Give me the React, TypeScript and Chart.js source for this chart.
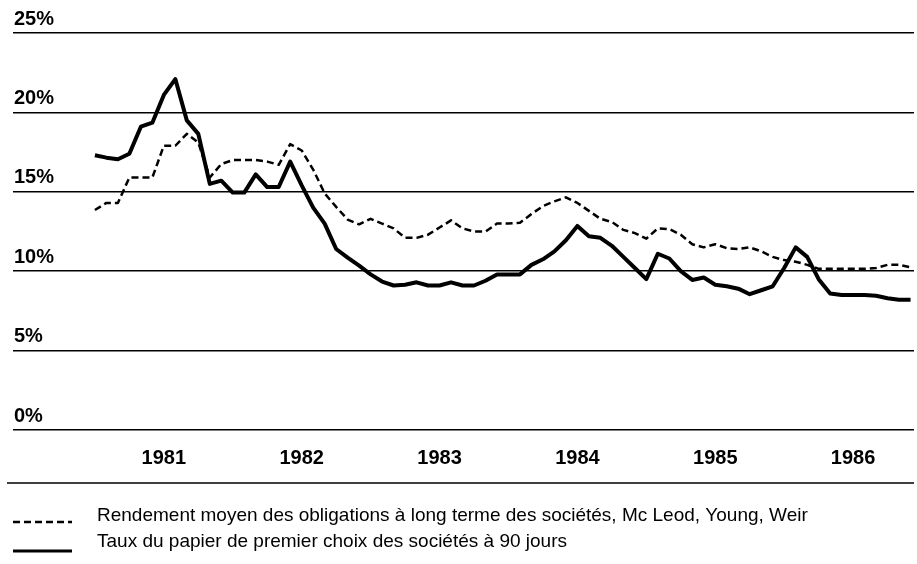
import React, { useEffect, useRef } from "react";
import { Chart, registerables } from "chart.js";

Chart.register(...registerables);

// ---- data ----
const yearLabels = ["1981", "1982", "1983", "1984", "1985", "1986"];
const firstYear = 1981;
const monthsPerYear = 12;

// Rendement moyen des obligations à long terme (monthly, Jan 1981 - Dec 1986)
const bondYield = [
  13.85, 14.3, 14.3, 15.9, 15.9, 15.9, 17.9, 17.9, 18.65, 18.1,
  15.9, 16.75, 17.0, 17.0, 17.0, 16.9, 16.7, 18.0, 17.6, 16.4,
  14.9, 14.05, 13.25, 12.95, 13.3, 13.0, 12.7, 12.1, 12.1, 12.3,
  12.75, 13.2, 12.7, 12.5, 12.5, 13.0, 13.0, 13.05, 13.6, 14.1,
  14.4, 14.65, 14.3, 13.8, 13.3, 13.1, 12.6, 12.4, 12.05, 12.7,
  12.65, 12.3, 11.7, 11.5, 11.7, 11.45, 11.4, 11.5, 11.25, 10.9,
  10.7, 10.6, 10.4, 10.15, 10.15, 10.15, 10.15, 10.15, 10.2, 10.4,
  10.4, 10.25,
];

// Taux du papier de premier choix à 90 jours (monthly, Jan 1981 - Dec 1986)
const paperRate = [
  17.3, 17.15, 17.05, 17.4, 19.1, 19.35, 21.1, 22.1, 19.5, 18.65,
  15.5, 15.7, 14.95, 14.95, 16.1, 15.3, 15.3, 16.9, 15.4, 14.0,
  13.0, 11.4, 10.85, 10.35, 9.8, 9.35, 9.1, 9.15, 9.3, 9.1,
  9.1, 9.3, 9.1, 9.1, 9.4, 9.8, 9.8, 9.8, 10.4, 10.75,
  11.25, 11.95, 12.85, 12.2, 12.1, 11.6, 10.9, 10.2, 9.5, 11.1,
  10.8, 10.0, 9.45, 9.6, 9.15, 9.05, 8.9, 8.55, 8.8, 9.05,
  10.2, 11.5, 10.9, 9.5, 8.6, 8.5, 8.5, 8.5, 8.45, 8.3,
  8.2, 8.2,
];

const seriesNames = [
  "Rendement moyen des obligations à long terme des sociétés, Mc Leod, Young, Weir",
  "Taux du papier de premier choix des sociétés à 90 jours",
];

const yTicks = [0, 5, 10, 15, 20, 25];

const FONT = "'Liberation Sans', Arial, Helvetica, sans-serif";

const toPoints = (arr: number[]) => arr.map((v, i) => ({ x: i, y: v }));

const notesPlugin = {
  id: "notes",
  afterDraw(chart: any) {
    const ctx: CanvasRenderingContext2D = chart.ctx;
    const H = chart.height;
    ctx.save();
    ctx.strokeStyle = "#000";
    ctx.lineWidth = 1.5;
    ctx.setLineDash([]);
    ctx.beginPath();
    ctx.moveTo(7, H - 81);
    ctx.lineTo(914, H - 81);
    ctx.stroke();

    const rows = [
      { base: H - 43, sample: H - 42 },
      { base: H - 17, sample: H - 13 },
    ];
    chart.data.datasets.forEach((ds: any, i: number) => {
      const r = rows[i];
      ctx.save();
      ctx.strokeStyle = ds.borderColor;
      ctx.lineWidth = i === 0 ? 2.5 : 3;
      ctx.setLineDash(ds.borderDash || []);
      ctx.beginPath();
      ctx.moveTo(13, r.sample);
      ctx.lineTo(72, r.sample);
      ctx.stroke();
      ctx.restore();
      ctx.fillStyle = "#000";
      ctx.font = `19px ${FONT}`;
      ctx.textBaseline = "alphabetic";
      ctx.textAlign = "left";
      ctx.fillText(ds.label, 97, r.base);
    });
    ctx.restore();
  },
};

export default function App() {
  const ref = useRef<HTMLCanvasElement | null>(null);
  useEffect(() => {
    if (!ref.current) return;
    const chart = new Chart(ref.current, {
      type: "line",
      data: {
        datasets: [
          {
            label: seriesNames[0],
            data: toPoints(bondYield),
            borderColor: "#000",
            borderWidth: 2.5,
            borderDash: [7, 4],
            pointRadius: 0,
            tension: 0,
            fill: false,
            borderJoinStyle: "round",
          },
          {
            label: seriesNames[1],
            data: toPoints(paperRate),
            borderColor: "#000",
            borderWidth: 4,
            pointRadius: 0,
            tension: 0,
            fill: false,
            borderJoinStyle: "round",
          },
        ],
      },
      options: {
        responsive: false,
        animation: false,
        layout: { padding: { top: 33, left: 11, right: 3, bottom: 78 } },
        plugins: {
          legend: { display: false },
          tooltip: { enabled: false },
          title: { display: false },
        },
        scales: {
          x: {
            type: "linear",
            min: -7.13,
            max: 71.3,
            grid: { display: false, drawTicks: false },
            border: { display: false },
            afterBuildTicks: (scale: any) => {
              scale.ticks = yearLabels.map((_, i) => ({ value: i * monthsPerYear + 6 }));
            },
            ticks: {
              padding: 16,
              color: "#000",
              font: { family: FONT, size: 20, weight: "bold" },
              maxRotation: 0,
              autoSkip: false,
              callback: (v: any) => yearLabels[Math.floor(Number(v) / monthsPerYear)] ?? String(firstYear),
            },
          },
          y: {
            min: 0,
            max: 25,
            afterBuildTicks: (scale: any) => {
              scale.ticks = yTicks.map((v) => ({ value: v }));
            },
            grid: { color: "#000", lineWidth: 1.5, drawTicks: false },
            border: { display: false },
            ticks: {
              mirror: true,
              crossAlign: "near",
              padding: 1,
              labelOffset: -14,
              color: "#000",
              font: { family: FONT, size: 20, weight: "bold" },
              callback: (v: any) => `${v}%`,
            },
          },
        },
      },
      plugins: [notesPlugin],
    });
    return () => chart.destroy();
  }, []);
  return (
    <div style={{ position: "fixed", left: 0, top: 0, width: 917, height: 564, background: "#fff" }}>
      <canvas ref={ref} width={917} height={564} style={{ display: "block" }} />
    </div>
  );
}
